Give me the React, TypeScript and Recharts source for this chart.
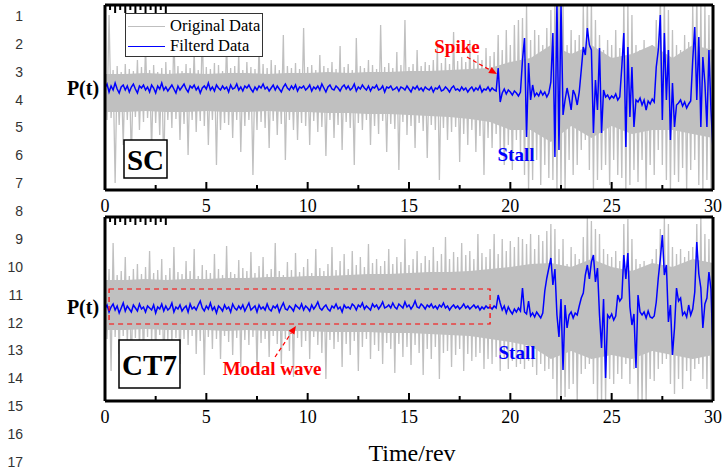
import React from "react";
import {
  ComposedChart,
  Area,
  Line,
  XAxis,
  YAxis,
  Legend,
  ReferenceArea,
  ReferenceLine,
} from "recharts";

// sampling step of both records, in revolutions
const sampleStep = 0.1;
const xTicks = [0, 2.5, 5, 7.5, 10, 12.5, 15, 17.5, 20, 22.5, 25, 27.5, 30];
const lineNumbers = [1, 2, 3, 4, 5, 6, 7, 8, 9, 10, 11, 12, 13, 14, 15, 16, 17];
const revs = [0, 1, 2, 3, 4, 5, 6, 7, 8, 9, 10, 11, 12, 13, 14, 15, 16, 17, 18, 19, 20, 21, 22, 23, 24, 25, 26, 27, 28, 29, 30];

// SC case: original (gray) and filtered (blue) pressure, arbitrary units
const scRaw = [
  22, -30, 75, -28, 20, -93, 24, -35, 18, -55, 26, -30, 21, -70, 19, -27, 30, -40, 23, -32,
  45, -28, 20, -60, 25, -33, 18, -45, 22, -80, 28, -30, 20, -38, 57, -29, 24, -50, 19, -34,
  26, -65, 22, -30, 40, -42, 20, -31, 60, -36, 23, -55, 21, -30, 27, -75, 25, -40, 19, -33,
  50, -35, 22, -48, 24, -30, 38, -62, 20, -36, 28, -30, 23, -85, 21, -40, 45, -32, 26, -38,
  22, -58, 30, -31, 25, -45, 20, -34, 55, -70, 24, -30, 22, -40, 27, -50, 21, -33, 62, -36,
  23, -55, 25, -31, 20, -42, 35, -37, 24, -66, 22, -30, 28, -48, 21, -35, 44, -60, 23, -32,
  26, -38, 20, -75, 52, -33, 24, -40, 22, -30, 30, -55, 25, -36, 21, -44, 65, -31, 23, -62,
  27, -34, 22, -39, 38, -80, 25, -32, 70, -45, 23, -36, 26, -58, 40, -33, 24, -41, 28, -68,
  25, -35, 30, -40, 45, -90, 27, -38, 32, -50, 26, -42, 58, -37, 29, -72, 33, -44, 28, -55,
  50, -40, 31, -62, 35, -46, 30, -85, 42, -48, 34, -58, 38, -44,
  55, -60, 40, -75, 60, -55, 45, -80, 65, -50, 70, -65,
  72, -85, 85, -100, 50, -90, 60, -70, 55, -95, 45, -75, 62, -88,
  80, -90, 95, -100, 100, -95, 90, -100, 45, -70, 60, -85, 50, -75, 55,
  -60, 85, -50, 95, -80, 90, -100, 70, -90, 55, -80, 40, -75, 50, -95, 45, -70, 60, -85, 42,
  -88, 90, -100, 85, -95, 75, -80, 45, -92, 40, -70, 50, -100, 38, -75, 45, -85,
  70, -60, 100, -75, 95, -90, 80, -100, 60, -85, 45, -92, 40, -78, 55, -100, 48, -80,
  85, -70, 100, -95, 90, -100, 85, -90, 75, -100, 60,
];

const scFiltered = [
  2, 6, -2, 4, 0, 7, 1, -3, 3, 5, 0, 4, -2, 3, 6, 1, -3, 4, 2, 5,
  0, 3, -2, 5, 2, -3, 4, 1, 7, 0, 3, -1, 2, 5, 1, -3, 4, 0, 3, 6,
  1, -2, 4, 2, 5, 0, 3, -3, 2, 4, 1, 7, 0, 3, -1, 5, 2, 0, 4, 1,
  3, -2, 5, 1, 2, 6, 0, 3, -1, 4, 2, 5, 1, -2, 3, 0, 4, 2, 6, 1,
  3, -1, 2, 5, 0, 4, 1, -2, 3, 6, 2, 0, 4, 1, 5, -1, 3, 2, 4, 0,
  2, 5, -1, 3, 1, 4, 0, 6, 2, -2, 3, 5, 1, 0, 4, 2, -1, 3, 5, 1,
  4, 0, 2, 6, -1, 3, 1, 5, 2, 0, 4, -1, 3, 2, 5, 0, 1, 4, -2, 3,
  2, 4, 0, 1, 3, -1, 3, 2, 0, 4, 1, -2, 3, 1, 4, 0, 2, -1, 3, 1,
  0, 3, -2, 2, 1, 4, -1, 0, 3, 1, -2, 2, 4, 0, 1, -1, 3, 0, 2, -2,
  1, 3, -1, 2, 0, 4, -2, 1, 0, 3, -1, 2, 0, -1,
  22, -12, -3, 1, -4, 0, -2, -5, -1, -3, -6, -2,
  30, 52, -47, 27, -10, 5, -6, -3, -6, -1, -5, -2, -7, -3,
  8, 57, -67, 90, -60, 88, -25, -10, 2, -8, -20, 0, -5, -15, -2,
  20, 43, 35, 62, 45, 40, -43, 10, -20, 42, -43, 0, -7, -5, -9, -6, -8, -4, -10, -7,
  23, 57, -57, 43, -27, 23, -37, -10, -12, -8, -15, -10, -20, -11, -14, -9, -12,
  23, 40, 75, -30, 57, -10, 40, -50, 7, -37, -15, -13, -10, -16, -12, -18, -14, -11,
  30, 63, -10, 53, -37, 33, 7, -37, 40, -20, -60,
];

// dense core of the gray record, one value per revolution
const scCoreHigh = [16, 16, 17, 16, 17, 16, 17, 17, 16, 17, 17, 18, 17, 18, 18, 19, 19, 20, 21, 22, 28, 32, 45, 36, 45, 32, 36, 45, 32, 45, 40];
const scCoreLow = [-22, -22, -21, -22, -22, -21, -22, -22, -21, -22, -22, -23, -23, -24, -24, -25, -26, -27, -29, -32, -40, -40, -52, -36, -48, -36, -44, -40, -40, -44, -48];

// CT7 case
const ct7Raw = [
  36, -30, 40, -62, 66, -28, 34, -45, 38, -27, 52, -35, 33, -60, 40, -29, 45, -40, 35, -52,
  42, -28, 58, -33, 36, -48, 39, -26, 50, -64, 34, -31, 41, -38, 62, -29, 37, -55, 35, -30,
  48, -36, 38, -27, 60, -45, 33, -32, 44, -66, 39, -28, 36, -40, 55, -30, 40, -50, 34, -27,
  63, -33, 37, -46, 35, -29, 49, -58, 41, -31, 38, -36, 57, -28, 36, -62, 43, -34, 52, -30,
  35, -48, 40, -27, 66, -35, 38, -55, 34, -30, 47, -42, 39, -68, 56, -29, 37, -38, 42, -32,
  50, -50, 36, -28, 60, -36, 41, -44, 38, -70, 45, -31, 62, -40, 39, -33, 48, -58, 55, -35,
  40, -46, 58, -32, 44, -62, 52, -38, 42, -30, 65, -50, 46, -36, 50, -42, 43, -55, 48, -34,
  60, -40, 45, -64, 52, -35, 47, -48, 70, -38, 44, -56, 50, -36, 58, -44, 46, -66, 53, -40,
  49, -50, 62, -38, 48, -70, 55, -44, 72, -42, 50, -58, 57, -46, 52, -40, 66, -62, 54, -45,
  58, -52, 50, -48, 75, -44, 56, -60, 52, -50,
  60, -55, 75, -48, 55, -62, 70, -50, 58, -60, 68, -52, 62, -58, 72, -55,
  70, -60, 65, -52, 75, -58, 60, -66, 74, -55, 68, -62, 78, -60,
  85, -70, 80, -92, 60, -95, 70, -88, 45, -80, 62, -75, 55, -92, 50,
  -65, 72, -60, 92, -55, 88, -75, 80, -92, 75, -95, 60, -92, 55, -70, 52, -75, 58, -65, 48,
  -70, 85, -55, 90, -75, 70, -60, 50, -92, 45, -95, 48, -92, 42, -70, 50, -72,
  60, -60, 80, -55, 92, -50, 85, -75, 62, -85, 55, -70, 60, -80, 52, -62, 58, -72,
  62, -60, 85, -55, 92, -70, 75, -80, 70, -90, 55,
];

const ct7Filtered = [
  0, 4, -3, 2, 5, -1, 3, -4, 1, 6, -2, 3, 0, -3, 4, 1, -2, 5, 0, 2,
  -3, 3, 1, -1, 4, -4, 2, 0, 5, -2, 3, -1, 1, 6, -3, 2, 0, 4, -2, 1,
  3, -3, 5, 0, 2, -1, 4, 8, 1, -2, 3, 0, 6, -1, 2, -4, 3, 1, -2, 4,
  0, 2, -3, 5, 1, -1, 3, 0, 4, -2, 2, 6, -1, 1, 3, -3, 4, 0, 2, -1,
  5, 0, -2, 3, 1, 4, -3, 2, 6, 0, -1, 3, 1, -2, 4, 2, 0, 5, -1, 3,
  1, -2, 4, 0, 3, 7, 1, -1, 2, 4, 0, -2, 3, 1, 5, 0, 2, -3, 4, 1,
  2, 0, 5, 3, -1, 4, 2, 6, 0, 3, 1, -1, 5, 2, 4, 0, 3, 7, 1, 2,
  4, 1, 6, 2, 0, 5, 3, 1, 7, 2, 4, 0, 3, 8, 2, 1, 5, 3, 0, 4,
  2, 5, 1, 3, 0, 4, 2, 6, 1, 3, -1, 2, 4, 1, 3, 0, 2, 5, 1, 3,
  0, 2, 4, 1, 3, -1, 2, 0, 3, 1,
  2, 0, 3, 1, 14, 6, -1, 3, -4, 2, -2, -5, 0, -3, 1, -2,
  21, -3, -5, 8, -7, -4, -8, -3, -6, -9, -4,
  18, 31, 41, 51, 24, 40, -6, -28, 10, -61,
  4, -19, -6, -3, -9, -4, -6, 3, 11, 16,
  34, 44, 30, 47, 54, 27, 41, -6, -39, 10,
  -69, -6, -9, -5, -11, -7, 14, 8, 11, 54,
  30, 56, 2, -16, -5, -59, 14, -3, -6, -3,
  -9, -2, -8, -9, -7, 7, 31, 50, 74, 34,
  44, -13, 4, -46, -19, 21, 8, 11, -6, -3,
  -8, 4, -6, 0, 17, 67, 35, 21, -19, 5,
  11, 37, 20, -46,
];

const ct7CoreHigh = [29, 29, 30, 29, 30, 30, 31, 31, 32, 32, 33, 33, 34, 35, 35, 36, 37, 37, 38, 40, 42, 45, 46, 42, 50, 42, 38, 46, 42, 50, 46];
const ct7CoreLow = [-21, -21, -20, -21, -21, -21, -22, -21, -22, -22, -22, -23, -23, -23, -24, -24, -25, -26, -27, -30, -33, -37, -50, -42, -50, -46, -50, -42, -46, -50, -46];

const legendItems = [
  { key: "raw", label: "Original Data", color: "#bfbfbf" },
  { key: "filtered", label: "Filterd Data", color: "#0000ff" },
];

const buildRows = (raw: number[], filtered: number[]) =>
  filtered.map((v, i) => ({
    t: Math.round(i * sampleStep * 10) / 10,
    raw: raw[i] ?? null,
    filtered: v,
  }));

const buildCore = (low: number[], high: number[]) =>
  revs.map((t, i) => ({ t, core: [low[i], high[i]] }));

const scRows = buildRows(scRaw, scFiltered);
const ct7Rows = buildRows(ct7Raw, ct7Filtered);
const scCore = buildCore(scCoreLow, scCoreHigh);
const ct7Core = buildCore(ct7CoreLow, ct7CoreHigh);

const SERIF = "'Liberation Serif', 'Times New Roman', serif";
const GRAY = "#c0c0c0";
const frame = { stroke: "#000", strokeWidth: 3 };

const BottomTick = (props: any) => {
  const { x, y, payload } = props;
  const major = payload.value % 5 === 0;
  return (
    <g>
      <line x1={x} x2={x} y1={y} y2={y - (major ? 8 : 5)} stroke="#000" strokeWidth={2} />
      {major && (
        <text x={x} y={y + 22} textAnchor="middle" fontSize={18} fontFamily={SERIF} fill="#000">
          {payload.value}
        </text>
      )}
    </g>
  );
};

const TopTick = (props: any) => {
  const { x, y, payload } = props;
  const major = payload.value % 5 === 0;
  return <line x1={x} x2={x} y1={y} y2={y + (major ? 8 : 5)} stroke="#000" strokeWidth={2} />;
};

const DashedArrow = (props: any) => {
  const { x1, y1, x2, y2 } = props;
  const ang = Math.atan2(y2 - y1, x2 - x1);
  const len = 8;
  const half = 3.5;
  const bx = x2 - len * Math.cos(ang);
  const by = y2 - len * Math.sin(ang);
  const px = -Math.sin(ang) * half;
  const py = Math.cos(ang) * half;
  return (
    <g>
      <line x1={x1} y1={y1} x2={bx} y2={by} stroke="#ff0000" strokeWidth={1.2} strokeDasharray="4 3" />
      <polygon points={`${x2},${y2} ${bx + px},${by + py} ${bx - px},${by - py}`} fill="#ff0000" />
    </g>
  );
};

const LegendBox = () => (
  <div
    style={{
      width: 138,
      height: 44,
      boxSizing: "border-box",
      border: "1px solid #333",
      background: "#fff",
      fontFamily: SERIF,
      fontSize: 16.5,
      color: "#000",
      paddingTop: 2,
    }}
  >
    {legendItems.map((it) => (
      <div key={it.key} style={{ display: "flex", alignItems: "center", height: 20 }}>
        <span
          style={{
            display: "inline-block",
            width: 37,
            marginLeft: 2,
            marginRight: 5,
            borderTop: `1.5px solid ${it.color}`,
          }}
        />
        <span style={{ lineHeight: "20px" }}>{it.label}</span>
      </div>
    ))}
  </div>
);

type Row = { t: number; raw: number | null; filtered: number };

type PanelProps = {
  rows: Row[];
  core: { t: number; core: number[] }[];
  yDomain: [number, number];
  top: number;
  plotHeight: number;
  showLegend?: boolean;
};

// chart height: 4 top margin + 1 top axis + plot + 30 bottom axis + 1 bottom margin
const Panel = ({ rows, core, yDomain, top, plotHeight, showLegend }: PanelProps) => (
  <div style={{ position: "absolute", left: 0, top }}>
    <ComposedChart
      width={726}
      height={plotHeight + 36}
      data={rows}
      margin={{ top: 4, right: 12, bottom: 1, left: 104 }}
    >
      <XAxis
        dataKey="t"
        type="number"
        domain={[0, 30]}
        ticks={xTicks}
        interval={0}
        allowDataOverflow
        height={30}
        tickLine={false}
        tickSize={0}
        tickMargin={0}
        axisLine={frame}
        tick={(p: any) => <BottomTick {...p} />}
      />
      <XAxis
        xAxisId="top"
        orientation="top"
        type="number"
        domain={[0, 30]}
        ticks={xTicks}
        interval={0}
        allowDataOverflow
        height={1}
        tickLine={false}
        tickSize={0}
        tickMargin={0}
        axisLine={frame}
        tick={(p: any) => <TopTick {...p} />}
      />
      <YAxis domain={yDomain} allowDataOverflow width={1} tick={false} tickLine={false} axisLine={frame} />
      <YAxis
        yAxisId="right"
        orientation="right"
        domain={yDomain}
        allowDataOverflow
        width={1}
        tick={false}
        tickLine={false}
        axisLine={frame}
      />
      <Area
        data={core}
        dataKey="core"
        type="linear"
        stroke="none"
        fill={GRAY}
        fillOpacity={1}
        legendType="none"
        isAnimationActive={false}
      />
      <Line
        dataKey="raw"
        name="Original Data"
        stroke={GRAY}
        strokeWidth={1.3}
        dot={false}
        isAnimationActive={false}
      />
      <Line
        dataKey="filtered"
        name="Filterd Data"
        stroke="#0000ff"
        strokeWidth={1.5}
        dot={false}
        isAnimationActive={false}
      />
      {showLegend && (
        <Legend
          layout="vertical"
          align="center"
          verticalAlign="middle"
          content={<LegendBox />}
          wrapperStyle={{ left: 125, top: 13, width: 138, height: 44 }}
        />
      )}
    </ComposedChart>
  </div>
);

// annotation layer drawn over the data, same plot box and scales as its panel
const Annotations = ({
  yDomain,
  top,
  plotHeight,
  children,
}: {
  yDomain: [number, number];
  top: number;
  plotHeight: number;
  children?: React.ReactNode;
}) => (
  <div style={{ position: "absolute", left: 0, top, pointerEvents: "none" }}>
    <ComposedChart
      width={726}
      height={plotHeight + 36}
      data={[]}
      margin={{ top: 5, right: 13, bottom: 31, left: 105 }}
    >
      <XAxis type="number" dataKey="t" domain={[0, 30]} allowDataOverflow hide />
      <YAxis domain={yDomain} allowDataOverflow hide />
      {children}
    </ComposedChart>
  </div>
);

const App = () => {
  const bold = { fontFamily: SERIF, fontWeight: 700 } as const;
  return (
    <div style={{ position: "absolute", left: 0, top: 0, width: 726, height: 470, background: "#fff" }}>
      <Panel rows={scRows} core={scCore} yDomain={[-100, 85]} top={0} plotHeight={185} showLegend />
      <Panel rows={ct7Rows} core={ct7Core} yDomain={[-92, 92]} top={212} plotHeight={184} />
      <Annotations yDomain={[-100, 85]} top={0} plotHeight={185}>
        <ReferenceLine
          segment={[
            { x: 17.86, y: 33 },
            { x: 19.34, y: 16 },
          ]}
          shape={(p: any) => <DashedArrow {...p} />}
        />
      </Annotations>
      <Annotations yDomain={[-92, 92]} top={212} plotHeight={184}>
        <ReferenceArea
          x1={0.2}
          x2={19}
          y1={-15}
          y2={20}
          fill="none"
          fillOpacity={0}
          stroke="#ff0000"
          strokeWidth={1.2}
          strokeDasharray="5 4"
        />
        <ReferenceLine
          segment={[
            { x: 8.39, y: -48 },
            { x: 9.42, y: -17 },
          ]}
          shape={(p: any) => <DashedArrow {...p} />}
        />
      </Annotations>
      <svg
        width={726}
        height={470}
        style={{ position: "absolute", left: 0, top: 0, pointerEvents: "none" }}
      >
        {lineNumbers.map((n, i) => (
          <text
            key={n}
            x={23}
            y={16 + i * 27.87}
            textAnchor="end"
            dominantBaseline="central"
            fontSize={14}
            fontFamily="'Liberation Sans', Arial, sans-serif"
            fill="#333"
          >
            {n}
          </text>
        ))}
        <text x={83} y={88} textAnchor="middle" dominantBaseline="central" fontSize={20} {...bold}>
          P(t)
        </text>
        <text x={83} y={307} textAnchor="middle" dominantBaseline="central" fontSize={20} {...bold}>
          P(t)
        </text>
        <rect x={124} y={140} width={43} height={38} fill="#fff" stroke="#000" strokeWidth={1.5} />
        <text x={145.5} y={160} textAnchor="middle" dominantBaseline="central" fontSize={29} {...bold}>
          SC
        </text>
        <rect x={119} y={340} width={61} height={48} fill="#fff" stroke="#000" strokeWidth={1.5} />
        <text x={149.5} y={365} textAnchor="middle" dominantBaseline="central" fontSize={29} {...bold}>
          CT7
        </text>
        <text x={457} y={46} textAnchor="middle" dominantBaseline="central" fontSize={19} fill="#ff0000" {...bold}>
          Spike
        </text>
        <text x={516} y={154} textAnchor="middle" dominantBaseline="central" fontSize={19} fill="#0000ff" {...bold}>
          Stall
        </text>
        <text x={517} y={352} textAnchor="middle" dominantBaseline="central" fontSize={19} fill="#0000ff" {...bold}>
          Stall
        </text>
        <text x={272} y={368} textAnchor="middle" dominantBaseline="central" fontSize={19} fill="#ff0000" {...bold}>
          Modal wave
        </text>
        <text x={412} y={461} textAnchor="middle" fontSize={24} fontFamily={SERIF} fill="#000">
          Time/rev
        </text>
      </svg>
    </div>
  );
};

export default App;
